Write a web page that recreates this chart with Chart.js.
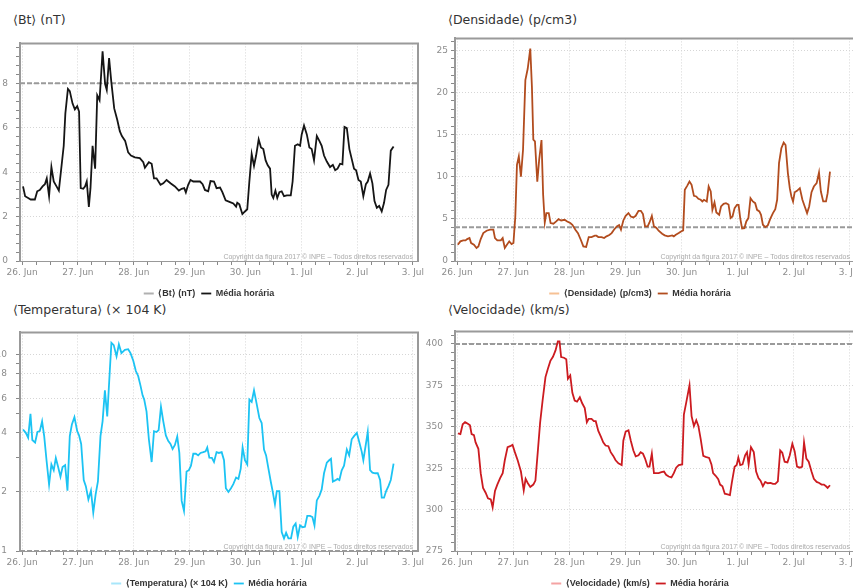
<!DOCTYPE html>
<html>
<head>
<meta charset="utf-8">
<script src="https://cdn.jsdelivr.net/npm/chart.js@4.4.0/dist/chart.umd.min.js"></script>
<style>
body{margin:0;width:853px;height:588px;overflow:hidden;background:#fff;position:relative;font-family:"DejaVu Sans",sans-serif}
.title{position:absolute;font-size:12.5px;line-height:15px;color:#333;white-space:nowrap}
canvas{position:absolute}
</style>
</head>
<body>
<div class="title" style="left:13px;top:12px">⟨Bt⟩ (nT)</div>
<div class="title" style="left:448px;top:12px">⟨Densidade⟩ (p/cm3)</div>
<div class="title" style="left:13px;top:302px">⟨Temperatura⟩ (× 104 K)</div>
<div class="title" style="left:448px;top:302px">⟨Velocidade⟩ (km/s)</div>

<canvas id="c1" width="440" height="278" style="left:0;top:30px"></canvas>
<canvas id="c2" width="450" height="278" style="left:425px;top:30px"></canvas>
<canvas id="c3" width="440" height="280" style="left:0;top:318px"></canvas>
<canvas id="c4" width="450" height="280" style="left:425px;top:318px"></canvas>

<script>
// x axis: hours since 26 Jun 00:00
const dayLabels = ['26. Jun','27. Jun','28. Jun','29. Jun','30. Jun','1. Jul','2. Jul','3. Jul'];
const X_MIN = -0.9, X_MAX = 170.2;
const xTickHours = [];
for (let h = 0; h <= 168; h += 6) xTickHours.push(h);

const copyrightText = 'Copyright da figura 2017 © INPE – Todos direitos reservados';

// Bt (nT)
const btHours = [0.4,1.3,2.6,3.7,5.5,6.5,7.6,8.8,9.8,10.6,
  11.6,12.6,13.6,14.8,15.8,16.9,17.9,18.6,19.7,20.5,
  21.7,22.7,23.7,24.5,25.2,26.3,27.1,27.8,28.7,29.4,
  30.3,31.4,32.3,33.3,34.6,35.7,36.4,37.4,38.3,39.6,
  40.9,42.0,42.9,44.3,45.6,46.8,48.5,50.6,52.1,52.8,
  54.5,55.7,56.7,57.8,59.5,60.7,62.1,63.8,65.7,67.4,
  68.6,69.7,70.4,71.4,72.4,73.6,76.5,77.6,78.6,80.0,
  81.0,82.5,83.6,85.1,86.1,87.5,89.4,90.8,92.0,92.5,
  93.4,94.7,95.8,96.8,97.7,98.7,99.7,100.6,101.7,102.7,
  103.7,104.7,105.6,106.6,107.3,108.0,108.9,109.7,110.6,111.6,
  112.6,113.8,115.5,116.3,117.3,118.5,119.5,120.2,121.2,122.4,
  123.5,124.5,125.5,126.7,127.8,128.8,129.8,131.0,132.4,133.6,
  134.6,135.6,136.7,137.7,138.6,139.6,140.7,141.7,142.7,143.6,
  144.6,145.6,146.7,147.8,148.6,149.6,150.6,151.5,152.5,153.5,
  154.6,155.6,156.5,157.5,158.5,159.7];
const btValues = [3.36,2.92,2.84,2.77,2.77,3.14,3.2,3.36,3.46,3.72,
  2.92,4.23,3.58,3.36,3.17,4.23,5.19,6.65,7.75,7.65,
  7.09,6.83,6.97,6.73,3.28,3.25,3.36,3.58,2.43,3.28,
  5.19,4.16,7.46,7.24,9.44,7.97,7.7,9.14,8.12,6.87,
  6.36,5.85,5.63,5.41,4.89,4.75,4.67,4.63,4.45,4.2,
  4.45,4.38,3.72,3.72,3.43,3.5,3.65,3.5,3.36,3.17,
  3.25,3.28,3.09,3.43,3.65,3.58,3.58,3.46,3.2,3.14,
  3.6,3.58,3.28,3.31,3.1,2.73,2.65,2.59,2.45,2.62,
  2.55,2.11,2.23,2.33,3.58,4.82,4.28,4.75,5.48,5.11,
  5.04,4.53,4.31,4.16,2.99,2.84,3.17,2.84,3.1,3.14,
  2.92,2.96,2.96,3.58,5.19,5.26,5.19,5.7,6.1,5.7,
  5.11,5.04,4.53,5.63,5.41,5.19,4.75,4.48,4.23,4.33,
  4.09,4.16,4.38,4.35,6.04,5.99,5.04,4.6,4.16,4.09,
  3.65,3.58,2.92,3.46,3.58,3.94,3.5,2.7,2.4,2.48,
  2.23,2.62,3.2,3.43,4.97,5.16];
const btLabels = [0,2,4,6,8];
const btLimit = 8;

// Densidade (p/cm3)
const denHours = [0.3,1.4,2.6,3.6,4.3,5.3,6.0,7.2,8.3,9.1,
  10.1,11.2,12.6,14.1,15.5,16.2,17.2,18.7,19.5,20.4,
  21.3,22.3,23.3,24.1,24.9,25.6,26.4,27.3,28.2,29.2,
  30.2,31.3,32.0,32.6,33.3,34.3,35.1,36.1,36.8,37.5,
  38.2,39.2,40.0,41.2,42.4,43.4,44.5,46.0,47.1,48.4,
  49.3,50.6,51.7,52.9,54.0,55.2,56.3,57.5,58.9,59.6,
  60.4,61.8,62.9,63.9,65.1,66.1,67.1,68.3,69.3,70.1,
  71.1,72.1,73.3,74.3,75.4,76.4,77.6,78.6,79.5,80.4,
  81.5,82.3,83.3,84.2,85.2,86.2,87.7,88.8,90.2,92.0,
  92.7,93.4,94.8,95.8,96.7,97.4,98.4,99.4,100.3,101.3,
  102.3,103.2,104.2,104.9,105.6,106.8,107.6,108.5,109.2,110.1,
  110.9,112.1,112.9,114.0,115.0,116.1,117.0,117.8,118.7,119.7,
  120.4,121.1,121.9,122.9,123.7,124.6,125.5,126.5,127.5,128.3,
  129.3,130.0,130.8,131.8,132.9,133.9,135.1,136.1,136.9,137.7,
  138.7,139.7,140.5,141.5,142.3,143.0,143.7,144.4,145.4,146.6,
  147.7,148.7,149.7,150.6,151.6,152.6,153.8,154.8,155.6,156.6,
  157.8,158.5,159.5];
const denValues = [1.93,2.33,2.44,2.44,2.6,2.72,2.13,1.93,1.54,1.73,
  2.6,3.31,3.59,3.71,3.71,2.72,2.44,2.44,2.72,1.54,
  1.93,2.33,2.01,2.13,5.28,11.4,12.4,10.0,13.2,21.45,
  22.8,25.2,20.7,14.4,14.2,9.4,12.0,14.35,7.85,4.57,
  5.68,5.68,4.5,4.42,4.69,4.97,4.81,4.89,4.69,4.5,
  4.3,3.71,3.31,2.52,1.73,1.66,2.84,2.84,3.0,3.0,
  2.84,2.84,2.72,2.92,3.08,3.31,3.71,4.1,4.26,3.71,
  4.81,5.36,5.68,5.28,5.17,5.36,5.95,5.95,5.56,4.1,
  4.1,4.57,5.36,4.1,3.94,3.59,3.23,3.04,2.92,3.04,
  2.92,3.08,3.31,3.51,3.63,8.44,8.91,9.42,9.03,7.73,
  7.65,7.37,7.26,7.06,7.26,7.06,8.83,8.24,6.07,6.94,
  5.76,5.48,6.47,6.78,6.86,6.7,5.09,5.28,6.27,6.66,
  6.66,5.09,3.86,3.9,4.69,5.09,7.45,7.06,6.86,6.07,
  5.88,5.48,4.3,4.02,4.22,4.97,5.68,6.15,7.26,11.6,
  13.37,14.04,13.76,10.4,8.64,7.65,7.06,8.16,8.32,8.64,
  7.26,6.47,5.68,6.47,8.16,8.83,9.23,10.49,8.24,7.06,
  7.06,8.04,10.6];
const denLabels = [0,5,10,15,20,25];
const denLimit = 4;

// Temperatura (x 10^4 K)
const tempHours = [0.4,1.6,2.6,3.6,4.4,5.6,6.6,7.6,8.6,9.5,
  10.5,11.6,12.6,13.6,14.5,15.5,16.5,17.4,18.5,19.5,
  20.5,21.4,22.5,23.7,24.5,25.4,26.5,27.4,28.5,29.6,
  30.6,31.6,32.6,33.7,34.6,35.6,36.6,37.7,38.4,39.4,
  40.6,41.6,42.7,44.2,45.6,46.6,47.8,48.9,49.9,50.9,
  51.8,52.5,53.5,54.5,55.7,56.7,57.8,58.7,59.7,60.7,
  61.8,62.8,63.8,64.7,65.7,66.7,67.6,68.6,69.6,70.7,
  71.7,72.6,73.6,74.7,75.7,76.7,77.9,78.9,79.6,80.5,
  81.6,82.5,83.6,84.6,85.8,86.8,87.6,88.7,89.8,90.8,
  92.0,93.0,94.0,94.8,95.8,96.8,97.7,98.7,99.7,100.8,
  102.0,103.0,104.0,104.9,105.9,106.9,107.7,108.7,109.5,110.6,
  111.6,112.6,113.5,114.5,115.6,116.6,117.6,118.5,119.5,120.6,
  121.6,122.6,123.8,124.8,125.7,126.7,127.8,128.8,129.8,131.0,
  132.0,132.8,133.6,134.6,135.6,136.4,137.4,138.4,139.6,140.6,
  141.7,142.7,143.9,145.0,146.0,146.7,147.8,148.6,149.6,150.6,
  151.8,152.9,153.9,154.6,155.6,156.5,157.5,158.5,159.7];
const tempValues = [4.16,4.0,3.78,5.0,3.68,3.57,4.04,4.08,4.58,3.85,
  2.9,2.18,2.76,2.58,2.98,2.68,2.39,2.68,2.74,2.03,
  3.85,4.41,4.81,4.08,3.88,3.51,2.3,2.14,1.83,2.03,
  1.57,1.94,2.26,3.85,4.58,6.58,4.85,8.26,11.5,11.2,
  9.81,11.3,10.2,10.6,10.67,10.2,9.33,8.26,7.8,6.96,
  6.21,5.91,5.13,3.71,2.84,4.08,4.04,4.13,5.43,4.58,
  3.88,3.64,3.51,3.31,3.47,3.83,3.16,1.8,1.6,2.54,
  2.58,2.72,3.13,3.13,3.07,3.16,3.19,3.22,3.37,2.99,
  2.98,2.84,3.19,3.16,3.19,2.9,2.09,2.0,2.09,2.19,
  2.37,2.33,2.63,3.37,2.9,2.76,5.91,5.75,6.58,5.65,
  4.76,4.49,3.29,3.07,2.63,2.26,2.02,1.73,2.02,2.02,
  1.25,1.16,1.24,1.16,1.16,1.33,1.38,1.18,1.35,1.32,
  1.33,1.51,1.51,1.49,1.35,1.81,1.91,2.06,2.49,2.82,
  2.9,2.95,2.26,2.29,2.33,2.3,2.58,2.72,3.29,3.07,
  3.71,3.85,4.0,3.57,3.21,2.9,3.51,4.04,2.58,2.51,
  2.49,2.49,2.3,1.87,1.87,2.02,2.14,2.3,2.79];
const tempLabels = [1,2,4,6,8,10];
const tempMinorTicks = [1,2,3,4,5,6,7,8,9,10];
const tempLimit = 1;

// Velocidade (km/s)
const velHours = [0.4,1.4,2.4,3.4,4.6,5.5,6.2,7.2,7.9,9.1,
  10.1,11.1,12.2,13.2,14.4,15.2,16.2,17.2,18.4,19.5,
  20.4,21.6,22.7,23.7,24.7,25.9,27.3,28.5,29.3,30.2,
  31.3,32.6,33.5,34.5,35.5,36.6,37.8,38.8,39.9,41.0,
  42.1,43.1,43.8,44.5,45.7,46.7,47.4,48.4,49.3,50.3,
  51.3,52.5,53.5,54.6,55.5,56.3,57.5,58.5,59.3,60.4,
  61.5,62.5,63.5,64.7,65.7,66.8,67.8,69.0,70.4,71.1,
  72.1,73.3,74.3,75.4,76.4,77.6,78.5,79.5,80.4,81.5,
  82.3,83.3,84.2,85.1,86.2,87.4,88.5,89.4,90.5,91.7,
  92.7,93.7,94.8,96.3,97.0,98.0,99.4,100.3,101.3,102.3,
  103.2,104.2,105.3,106.3,107.8,108.8,109.5,110.6,111.7,112.5,
  113.5,114.5,115.7,116.7,117.5,118.7,119.6,120.3,121.1,122.1,
  123.2,124.0,124.7,125.7,126.9,127.9,128.9,129.8,130.8,131.8,
  132.9,134.1,135.1,136.1,137.2,138.2,139.1,140.1,141.3,142.3,
  143.4,144.4,145.4,146.6,147.6,148.4,149.4,150.4,151.6,152.6,
  153.8,154.9,155.9,156.9,157.8,158.5,159.5];
const velValues = [346.0,345.6,351.5,352.8,351.8,350.9,345.6,345.0,340.6,336.7,
  322.0,313.1,310.2,306.8,306.2,301.3,311.2,315.1,319.0,322.0,
  329.8,337.7,338.3,339.1,334.7,329.8,323.0,311.6,318.6,316.1,
  313.7,315.1,317.5,334.7,352.4,366.2,380.0,384.9,389.8,392.3,
  396.1,401.6,401.6,392.1,391.7,390.8,379.0,381.0,370.5,365.8,
  365.2,367.8,364.2,361.3,352.8,354.8,354.8,353.4,353.4,347.5,
  344.0,340.6,338.7,338.3,334.7,332.4,329.8,327.9,326.9,341.6,
  347.1,347.9,341.6,335.7,332.2,332.8,334.7,333.8,330.8,325.9,
  325.9,333.8,322.0,322.0,322.0,322.6,323.0,321.0,320.0,319.4,
  322.0,325.3,326.9,327.3,357.4,364.6,375.0,356.4,350.5,354.0,
  350.5,342.6,332.4,331.8,331.2,327.3,322.0,320.4,318.4,315.1,
  314.1,309.6,309.2,308.8,316.1,325.9,326.9,331.4,326.9,327.3,
  332.8,334.7,327.3,337.7,334.7,323.0,319.0,317.5,314.1,316.7,
  315.9,316.1,315.5,315.5,317.1,335.7,334.3,328.9,328.5,332.8,
  339.7,335.1,325.9,325.3,325.9,340.6,330.8,328.9,323.0,318.6,
  316.7,316.1,315.1,315.1,314.1,313.1,314.7];
const velLabels = [275,300,325,350,375,400];
const velLimit = 400;

function minorTicks(from, to, step){
    let t = [];
    for (let k = 0; from + k*step <= to + 1e-9; k++) t.push(+(from + k*step).toFixed(4));
    return t;
}

function seriesPoints(hours, values){
    return hours.map((h,i) => ({x:h, y:values[i]}));
}

// moldura do grafico + copyright
const framePlugin = {
    id:'frame',
    afterDraw(chart){
        const ctx = chart.ctx, a = chart.chartArea;
        ctx.save();
        ctx.strokeStyle = '#9a9a9a';
        ctx.lineWidth = 2;
        ctx.beginPath();
        ctx.moveTo(a.left, a.top);
        ctx.lineTo(a.right, a.top);
        ctx.lineTo(a.right, a.bottom);
        ctx.stroke();
        ctx.font = '7px "Liberation Sans"';
        ctx.fillStyle = '#aaa';
        ctx.textAlign = 'right';
        ctx.textBaseline = 'middle';
        ctx.fillText(copyrightText, a.right - 5, a.bottom - 3.5);
        ctx.restore();
    }
};

function buildChart(id, cfg){
    const ctx = document.getElementById(id).getContext('2d');
    const isMajor = v => cfg.labels.some(m => Math.abs(m - v) < 1e-6);
    return new Chart(ctx, {
        type:'line',
        data:{
            datasets:[{
                label:cfg.rawLabel,
                data:[],
                borderColor:cfg.rawColor,
                backgroundColor:cfg.rawColor,
                borderWidth:2,
                pointRadius:0,
                pointStyle:'line'
            },{
                label:'Média horária',
                data:seriesPoints(cfg.hours, cfg.values),
                borderColor:cfg.color,
                backgroundColor:cfg.color,
                borderWidth:1.8,
                pointRadius:0,
                pointStyle:'line',
                tension:0
            },{
                label:'limite',
                data:[{x:X_MIN, y:cfg.limit},{x:X_MAX, y:cfg.limit}],
                borderColor:'#9a9a9a',
                borderWidth:2,
                borderDash:[5,2],
                pointRadius:0
            }]
        },
        options:{
            responsive:false,
            animation:false,
            layout:{padding:{top:cfg.padTop, left:0, right:cfg.padRight, bottom:0}},
            plugins:{
                tooltip:{enabled:false},
                legend:{
                    position:'bottom',
                    labels:{
                        usePointStyle:true,
                        pointStyleWidth:10,
                        padding:6,
                        color:'#333',
                        font:{family:'Liberation Sans', size:9, weight:'bold'},
                        filter:item => item.datasetIndex < 2
                    }
                }
            },
            scales:{
                x:{
                    type:'linear', min:X_MIN, max:X_MAX,
                    afterBuildTicks:s => { s.ticks = xTickHours.map(v => ({value:v})); },
                    afterFit:s => { s.height = 22; },
                    ticks:{
                        autoSkip:false, maxRotation:0, padding:2, color:'#8c8c8c',
                        font:{family:'DejaVu Sans', size:9},
                        callback:v => v % 24 === 0 ? dayLabels[v/24] : ''
                    },
                    grid:{
                        color:c => (c.tick && c.tick.value % 24 === 0) ? '#d6d6d6' : 'rgba(0,0,0,0)',
                        tickColor:'#888', tickLength:4, tickBorderDash:[]
                    },
                    border:{color:'#999', width:1, dash:[1,2]}
                },
                y:{
                    type:cfg.logY ? 'logarithmic' : 'linear',
                    min:cfg.yMin, max:cfg.yMax,
                    afterBuildTicks:s => { s.ticks = cfg.yTicks.map(v => ({value:v})); },
                    afterFit:s => { s.width = cfg.axisWidth; },
                    ticks:{
                        autoSkip:false, padding:cfg.labelGap, color:'#8c8c8c',
                        font:{family:'DejaVu Sans', size:9},
                        callback:v => isMajor(v) ? String(v) : ''
                    },
                    grid:{
                        color:c => (c.tick && isMajor(c.tick.value) && c.tick.value !== cfg.yMin) ? '#d6d6d6' : 'rgba(0,0,0,0)',
                        tickColor:'#888', tickLength:4, tickBorderDash:[]
                    },
                    border:{color:'#999', width:2, dash:[1,2]}
                }
            }
        },
        plugins:[framePlugin]
    });
}

buildChart('c1', {
    rawLabel:'⟨Bt⟩ (nT)', rawColor:'#b0b0b0', color:'#151515',
    hours:btHours, values:btValues, limit:btLimit,
    yMin:0, yMax:9.8, labels:btLabels, yTicks:minorTicks(0, 9.6, 0.4),
    axisWidth:20, labelGap:8, padTop:8, padRight:22
});
buildChart('c2', {
    rawLabel:'⟨Densidade⟩ (p/cm3)', rawColor:'#f6c194', color:'#b24c1e',
    hours:denHours, values:denValues, limit:denLimit,
    yMin:0, yMax:26.4, labels:denLabels, yTicks:minorTicks(0, 26, 1),
    axisWidth:30, labelGap:3, padTop:8, padRight:20
});
buildChart('c3', {
    rawLabel:'⟨Temperatura⟩ (× 104 K)', rawColor:'#a8e6fa', color:'#1cc3f3',
    hours:tempHours, values:tempValues, limit:tempLimit, logY:true,
    yMin:1, yMax:13, labels:tempLabels, yTicks:tempMinorTicks,
    axisWidth:20, labelGap:9, padTop:9, padRight:22
});
buildChart('c4', {
    rawLabel:'⟨Velocidade⟩ (km/s)', rawColor:'#f4a3a3', color:'#cc1b20',
    hours:velHours, values:velValues, limit:velLimit,
    yMin:275, yMax:407.6, labels:velLabels, yTicks:minorTicks(275, 405, 5),
    axisWidth:30, labelGap:8, padTop:9, padRight:20
});
</script>
</body>
</html>
